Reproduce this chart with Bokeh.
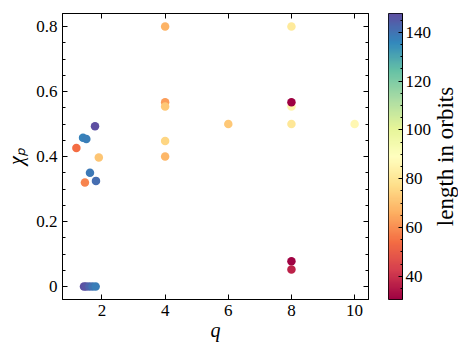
import numpy as np
from bokeh.plotting import figure
from bokeh.layouts import row
from bokeh.models import (ColumnDataSource, LinearColorMapper, LinearAxis,
                          Range1d, FixedTicker, Label, CustomLabelingPolicy)
from bokeh.palettes import Spectral11
from bokeh.transform import transform
from bokeh.embed import file_html
from bokeh.resources import INLINE

# ---- data ----
q = [1.19, 1.40, 1.505, 1.78, 1.62, 1.81, 1.46, 1.90,
     1.43, 1.50, 1.60, 1.70, 1.80,
     4, 4, 4, 4, 4,
     6,
     8, 8, 8, 8, 8, 8,
     10]
chi_p = [0.426, 0.458, 0.454, 0.493, 0.35, 0.325, 0.32, 0.397,
         0.0, 0.0, 0.0, 0.0, 0.0,
         0.80, 0.567, 0.554, 0.448, 0.40,
         0.50,
         0.80, 0.554, 0.567, 0.50, 0.078, 0.052,
         0.50]
length = [54, 137, 138, 147.7, 139, 141, 58, 71,
          147, 146, 143, 140, 138,
          67, 63, 72, 75, 68,
          72,
          81, 85, 30.5, 80, 31, 37,
          86]
x_ticks = [2, 4, 6, 8, 10]
y_ticks = [0.0, 0.2, 0.4, 0.6, 0.8]
cbar_ticks = [40, 60, 80, 100, 120, 140]
cbar_label = "length in orbits"

# ---- palette: matplotlib-like Spectral (red -> purple), interpolated ----
base = list(reversed(Spectral11))
rgb = np.array([[int(c[i:i + 2], 16) for i in (1, 3, 5)] for c in base], dtype=float)
t = np.linspace(0, 1, len(base))
tt = np.linspace(0, 1, 256)
pal = ["#%02x%02x%02x" % tuple(int(round(np.interp(v, t, rgb[:, k]))) for k in range(3)) for v in tt]

lo, hi = min(length), max(length)
mapper = LinearColorMapper(palette=pal, low=lo, high=hi)
src = ColumnDataSource(dict(q=q, chi=chi_p, L=length))

FONT = "Liberation Serif"
TOP, BOTTOM, FH = 13, 40, 286

p = figure(frame_width=306, frame_height=FH, output_backend="svg", toolbar_location=None,
           x_range=Range1d(0.75, 10.44), y_range=Range1d(-0.04, 0.84),
           min_border_left=62, min_border_top=TOP, min_border_bottom=BOTTOM, min_border_right=20,
           x_axis_label="q", y_axis_label="χₚ")
p.grid.visible = False
p.outline_line_color = "black"
p.outline_line_width = 1
p.background_fill_color = "white"
p.border_fill_color = "white"

p.scatter("q", "chi", source=src, size=8.5, line_color=None,
          fill_color=transform("L", mapper))

no_labels = CustomLabelingPolicy(code="""
for (const i of indices) { indices.unset(i) }
return indices
""")


def style_axis(ax, show_labels=True):
    ax.axis_line_color = "black"
    ax.axis_line_width = 1
    ax.major_tick_line_color = "black"
    ax.minor_tick_line_color = "black"
    ax.major_tick_in = 5
    ax.major_tick_out = 0
    ax.minor_tick_in = 3
    ax.minor_tick_out = 0
    ax.major_label_text_font = FONT
    ax.major_label_text_font_size = "17px" if show_labels else "0px"
    ax.major_label_text_color = "black"
    ax.major_label_standoff = 5 if show_labels else 0
    if not show_labels:
        ax.major_label_policy = no_labels
    ax.axis_label_text_font = FONT
    ax.axis_label_text_font_style = "italic"
    ax.axis_label_text_font_size = "20px"
    ax.axis_label_text_color = "black"


xt = FixedTicker(ticks=x_ticks, minor_ticks=[])
yt = FixedTicker(ticks=y_ticks, minor_ticks=list(np.round(np.arange(-0.0, 0.85, 0.05), 2)))
for ax in p.xaxis:
    ax.ticker = xt
    style_axis(ax)
    ax.axis_label_standoff = 0
for ax in p.yaxis:
    ax.ticker = yt
    style_axis(ax)
    ax.axis_label_standoff = 6

top = LinearAxis(ticker=xt)
style_axis(top, False)
p.add_layout(top, "above")
right = LinearAxis(ticker=yt)
style_axis(right, False)
p.add_layout(right, "right")

# ---- colour bar as its own narrow figure ----
cb = figure(frame_width=14, frame_height=FH, output_backend="svg", toolbar_location=None,
            x_range=Range1d(0, 1), y_range=Range1d(lo, hi), x_axis_location=None,
            y_axis_location="right",
            min_border_left=0, min_border_right=26, min_border_top=TOP, min_border_bottom=BOTTOM)
cb.grid.visible = False
cb.outline_line_color = "black"
cb.outline_line_width = 1
cb.border_fill_color = "white"
grad = np.linspace(lo, hi, 256).reshape(-1, 1)
cb.image(image=[grad], x=0, y=lo, dw=1, dh=hi - lo, color_mapper=mapper)
cax = cb.yaxis[0]
cax.ticker = FixedTicker(ticks=cbar_ticks, minor_ticks=list(range(35, 150, 5)))
style_axis(cax)
cax.major_tick_in = 4
cax.minor_tick_in = 2
cax.major_label_standoff = 3

# ---- rotated colour-bar label in its own narrow panel ----
lf = figure(frame_width=24, frame_height=FH, output_backend="svg", toolbar_location=None,
            x_range=Range1d(0, 1), y_range=Range1d(0, 1), x_axis_location=None, y_axis_location=None,
            min_border_left=0, min_border_right=0, min_border_top=TOP, min_border_bottom=BOTTOM)
lf.grid.visible = False
lf.outline_line_color = None
lf.border_fill_color = "white"
lf.add_layout(Label(x=0.45, y=0.5, angle=np.pi / 2, text=cbar_label, text_align="center",
                    text_baseline="middle", text_font=FONT, text_font_size="23px",
                    text_color="black"))

layout = row(p, cb, lf, spacing=0)
open("out.html", "w").write(file_html(layout, INLINE))
